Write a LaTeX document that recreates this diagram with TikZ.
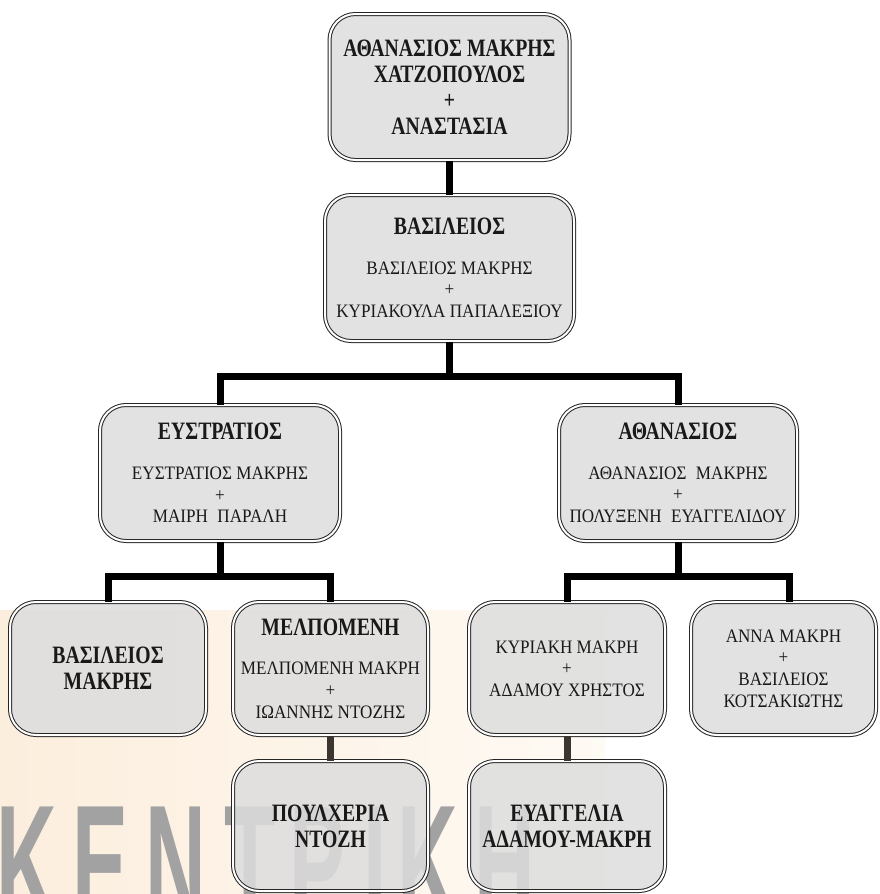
\documentclass[tikz,border=0pt]{standalone}
\usepackage{fontspec}
\usepackage{graphicx}
\setmainfont{Liberation Serif}[FakeStretch=0.9]
\newfontfamily\headfam{Liberation Serif}[FakeStretch=0.79]
\newfontfamily\markfont{Liberation Sans}

\definecolor{boxgray}{HTML}{DDDDDD}
\definecolor{sublinkc}{HTML}{3B3630}
\definecolor{markgray}{HTML}{A2A2A2}
\definecolor{bandcream}{HTML}{FEFAF4}
\definecolor{bandpeach}{HTML}{FCEEDD}

\newcommand{\hd}{\headfam\fontsize{12.5pt}{13pt}\selectfont\bfseries}
\newcommand{\nm}{\fontsize{9.5pt}{10.8pt}\selectfont}
\newcommand{\wmk}[1]{\scalebox{0.5}[1]{\markfont\fontsize{84pt}{84pt}\selectfont\bfseries #1}}

\tikzset{
  member/.style={draw=black!85, double=white, double distance=1pt, line width=0.5pt,
    rounded corners=13pt, fill=boxgray, fill opacity=0.85, text opacity=1,
    align=center, inner sep=2pt, text=black!90},
  link/.style={line width=3.5pt},
  sublink/.style={line width=3.5pt, draw=sublinkc},
  wmark/.style={anchor=north, inner sep=0pt, text=markgray}
}

\begin{document}
\begin{tikzpicture}[x=0.5pt, y=-0.5pt]
    \useasboundingbox (0,0) rectangle (879,894);

    % background band and mark
    \fill[left color=bandpeach, right color=bandcream] (0,610) rectangle (605,894);
    \node[wmark] (wm1) at (27,807) {\wmk{Κ}};
    \node[wmark] (wm2) at (101,807) {\wmk{Ε}};
    \node[wmark] (wm3) at (176,807) {\wmk{Ν}};
    \node[wmark] (wm4) at (250,807) {\wmk{Τ}};
    \node[wmark] (wm5) at (318,807) {\wmk{Ρ}};
    \node[wmark] (wm6) at (375,807) {\wmk{Ι}};
    \node[wmark] (wm7) at (428,807) {\wmk{Κ}};
    \node[wmark] (wm8) at (505,807) {\wmk{Η}};

    % generations
    \node[member, font=\hd, minimum width=120pt, minimum height=73pt] (top) at (449.5,87)
        {ΑΘΑΝΑΣΙΟΣ ΜΑΚΡΗΣ\\ ΧΑΤΖΟΠΟΥΛΟΣ\\ +\\ ΑΝΑΣΤΑΣΙΑ};
    \node[member, font=\nm, minimum width=124.5pt, minimum height=73pt] (vas) at (449.5,268)
        {{\hd ΒΑΣΙΛΕΙΟΣ}\\[9pt] ΒΑΣΙΛΕΙΟΣ ΜΑΚΡΗΣ\\ +\\ ΚΥΡΙΑΚΟΥΛΑ ΠΑΠΑΛΕΞΙΟΥ};

    \node[member, font=\nm, minimum width=120pt, minimum height=68pt] (eus) at (220,473)
        {{\hd ΕΥΣΤΡΑΤΙΟΣ}\\[9pt] ΕΥΣΤΡΑΤΙΟΣ ΜΑΚΡΗΣ\\ +\\ ΜΑΙΡΗ\enspace ΠΑΡΑΛΗ};
    \node[member, font=\nm, minimum width=119pt, minimum height=68pt] (ath) at (678,473)
        {{\hd ΑΘΑΝΑΣΙΟΣ}\\[9pt] ΑΘΑΝΑΣΙΟΣ\enspace ΜΑΚΡΗΣ\\ +\\ ΠΟΛΥΞΕΝΗ\enspace ΕΥΑΓΓΕΛΙΔΟΥ};

    \node[member, font=\hd, minimum width=98pt, minimum height=66.5pt] (vasm) at (108,668.5)
        {ΒΑΣΙΛΕΙΟΣ\\ ΜΑΚΡΗΣ};
    \node[member, font=\nm, minimum width=97.5pt, minimum height=66.5pt] (mel) at (330.5,668.5)
        {{\hd ΜΕΛΠΟΜΕΝΗ}\\[9pt] ΜΕΛΠΟΜΕΝΗ ΜΑΚΡΗ\\ +\\ ΙΩΑΝΝΗΣ ΝΤΟΖΗΣ};
    \node[member, font=\nm, minimum width=98pt, minimum height=66.5pt] (kyr) at (567,668.5)
        {ΚΥΡΙΑΚΗ ΜΑΚΡΗ\\ +\\ ΑΔΑΜΟΥ ΧΡΗΣΤΟΣ};
    \node[member, font=\nm, minimum width=92.5pt, minimum height=66.5pt] (anna) at (783.5,668.5)
        {ΑΝΝΑ ΜΑΚΡΗ\\ +\\ ΒΑΣΙΛΕΙΟΣ\\ ΚΟΤΣΑΚΙΩΤΗΣ};

    \node[member, font=\hd, minimum width=97.5pt, minimum height=65pt] (poul) at (330.5,826)
        {ΠΟΥΛΧΕΡΙΑ\\ ΝΤΟΖΗ};
    \node[member, font=\hd, minimum width=98pt, minimum height=65pt] (evan) at (567,826)
        {ΕΥΑΓΓΕΛΙΑ\\ ΑΔΑΜΟΥ-ΜΑΚΡΗ};

    % connectors
    \coordinate (forkA) at (449,376);
    \coordinate (forkB) at (0,576);
    \coordinate (annatop) at ([xshift=2.75pt]anna.north);

    \draw[link] (top.south) -- (vas.north);
    \draw[link] (vas.south) -- (vas.south |- forkA);
    \draw[link] (eus.north) |- (ath.north |- forkA) -- (ath.north);

    \draw[link] (eus.south) -- (eus.south |- forkB);
    \draw[link] (vasm.north) |- (mel.north |- forkB) -- (mel.north);
    \draw[link] (ath.south) -- (ath.south |- forkB);
    \draw[link] (kyr.north) |- (annatop |- forkB) -- (annatop);

    \draw[sublink] (mel.south) -- (poul.north);
    \draw[sublink] (kyr.south) -- (evan.north);
\end{tikzpicture}
\end{document}
